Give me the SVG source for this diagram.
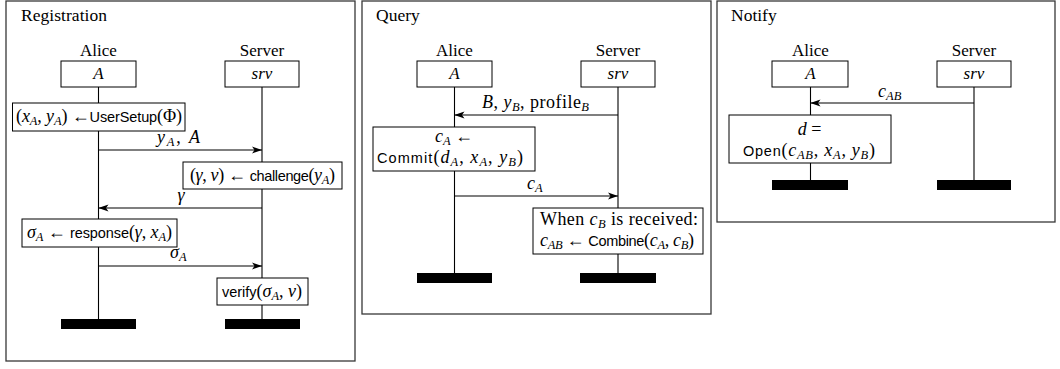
<svg xmlns="http://www.w3.org/2000/svg" width="1060" height="369" viewBox="0 0 1060 369">
<style>
.frame{fill:none;stroke:#383838;stroke-width:1.3}
.box{fill:#fff;stroke:#000;stroke-width:1}
.life{stroke:#000;stroke-width:1.1;fill:none}
.bar{fill:#000}
.msg{stroke:#000;stroke-width:1.1;fill:none;marker-end:url(#ah)}
.rm{font-family:"Liberation Serif","DejaVu Serif",serif;font-size:17px;fill:#000}
.bx{font-size:18px}
.ttl{font-family:"Liberation Serif","DejaVu Serif",serif;font-size:17.5px;fill:#000}
.mi{font-style:italic}
.sb{font-size:12.5px;font-style:italic}
.sf{font-family:"Liberation Sans","DejaVu Sans",sans-serif;font-size:14.5px}
</style>
<defs>
<marker id="ah" viewBox="0 0 10 8" refX="10" refY="4" markerWidth="10" markerHeight="8" markerUnits="userSpaceOnUse" orient="auto">
<path d="M0,0.5 L10,4 L0,7.5 L2.5,4 Z" fill="#000"/>
</marker>
</defs>
<rect width="1060" height="369" fill="#fff"/>

<!-- Frames -->
<g id="frame-registration">
<rect class="frame" x="6" y="1" width="349" height="360"/>
<text class="ttl" x="21" y="21" textLength="86">Registration</text>
</g>
<g id="frame-query">
<rect class="frame" x="362" y="1" width="349" height="313"/>
<text class="ttl" x="376" y="21">Query</text>
</g>
<g id="frame-notify">
<rect class="frame" x="717" y="1" width="338" height="221"/>
<text class="ttl" x="731" y="21">Notify</text>
</g>

<!-- Lifelines -->
<g id="lifelines">
<line class="life" x1="98.5" y1="87" x2="98.5" y2="319"/>
<line class="life" x1="262" y1="87" x2="262" y2="319"/>
<line class="life" x1="454.5" y1="87" x2="454.5" y2="273"/>
<line class="life" x1="618" y1="87" x2="618" y2="273"/>
<line class="life" x1="810.5" y1="87" x2="810.5" y2="180"/>
<line class="life" x1="974" y1="87" x2="974" y2="180"/>
</g>

<!-- Registration participants -->
<g id="reg-alice">
<text class="rm" x="98.5" y="56" text-anchor="middle">Alice</text>
<rect class="box" x="61" y="61" width="75" height="26"/>
<text class="rm mi" x="98.5" y="78.5" text-anchor="middle" font-size="18">A</text>
<rect class="bar" x="61" y="319" width="75" height="10"/>
</g>
<g id="reg-server">
<text class="rm" x="262" y="56" text-anchor="middle">Server</text>
<rect class="box" x="225" y="61" width="74" height="26"/>
<text class="rm mi" x="262" y="78.5" text-anchor="middle" font-size="18">srv</text>
<rect class="bar" x="225" y="319" width="75" height="10"/>
</g>
<g id="reg-usersetup">
<rect class="box" x="12.5" y="103" width="172.5" height="28"/>
<text class="rm bx" x="16" y="122" textLength="166">(<tspan class="mi">x</tspan><tspan class="sb" dy="3">A</tspan><tspan dy="-3">, </tspan><tspan class="mi">y</tspan><tspan class="sb" dy="3">A</tspan><tspan dy="-3">) ←</tspan><tspan class="sf">UserSetup</tspan>(Φ)</text>
</g>
<g id="reg-challenge">
<rect class="box" x="183" y="162" width="159" height="27"/>
<text class="rm bx" x="190" y="181" textLength="145">(<tspan class="mi">γ</tspan>, <tspan class="mi">v</tspan>) ← <tspan class="sf">challenge</tspan>(<tspan class="mi">y</tspan><tspan class="sb" dy="3">A</tspan><tspan dy="-3">)</tspan></text>
</g>
<g id="reg-response">
<rect class="box" x="22" y="219" width="155" height="28"/>
<text class="rm bx" x="27" y="238" textLength="145"><tspan class="mi">σ</tspan><tspan class="sb" dy="3">A</tspan><tspan dy="-3"> ← </tspan><tspan class="sf">response</tspan>(<tspan class="mi">γ</tspan>, <tspan class="mi">x</tspan><tspan class="sb" dy="3">A</tspan><tspan dy="-3">)</tspan></text>
</g>
<g id="reg-verify">
<rect class="box" x="217" y="278" width="91" height="27"/>
<text class="rm bx" x="222" y="297" textLength="80"><tspan class="sf">verify</tspan>(<tspan class="mi">σ</tspan><tspan class="sb" dy="3">A</tspan><tspan dy="-3">, </tspan><tspan class="mi">v</tspan>)</text>
</g>

<!-- Query participants -->
<g id="q-alice">
<text class="rm" x="454.5" y="56" text-anchor="middle">Alice</text>
<rect class="box" x="417" y="61" width="75" height="26"/>
<text class="rm mi" x="454.5" y="78.5" text-anchor="middle" font-size="18">A</text>
<rect class="bar" x="417" y="273" width="75" height="10"/>
</g>
<g id="q-server">
<text class="rm" x="618" y="56" text-anchor="middle">Server</text>
<rect class="box" x="581" y="61" width="74" height="26"/>
<text class="rm mi" x="618" y="78.5" text-anchor="middle" font-size="18">srv</text>
<rect class="bar" x="580" y="273" width="76" height="10"/>
</g>
<g id="q-commit">
<rect class="box" x="373" y="127" width="162" height="44"/>
<text class="rm bx" x="454" y="142" text-anchor="middle"><tspan class="mi">c</tspan><tspan class="sb" dy="3">A</tspan><tspan dy="-3"> ←</tspan></text>
<text class="rm bx" x="377" y="163" textLength="146"><tspan class="sf">Commit</tspan>(<tspan class="mi">d</tspan><tspan class="sb" dy="3">A</tspan><tspan dy="-3">, </tspan><tspan class="mi">x</tspan><tspan class="sb" dy="3">A</tspan><tspan dy="-3">, </tspan><tspan class="mi">y</tspan><tspan class="sb" dy="3">B</tspan><tspan dy="-3">)</tspan></text>
</g>
<g id="q-combine">
<rect class="box" x="533" y="208" width="170" height="46"/>
<text class="rm bx" x="540" y="225" textLength="158">When <tspan class="mi">c</tspan><tspan class="sb" dy="3">B</tspan><tspan dy="-3"> is received:</tspan></text>
<text class="rm bx" x="540" y="246" textLength="154"><tspan class="mi">c</tspan><tspan class="sb" dy="3">AB</tspan><tspan dy="-3"> ← </tspan><tspan class="sf">Combine</tspan>(<tspan class="mi">c</tspan><tspan class="sb" dy="3">A</tspan><tspan dy="-3">, </tspan><tspan class="mi">c</tspan><tspan class="sb" dy="3">B</tspan><tspan dy="-3">)</tspan></text>
</g>

<!-- Notify participants -->
<g id="n-alice">
<text class="rm" x="810.5" y="56" text-anchor="middle">Alice</text>
<rect class="box" x="772" y="61" width="76" height="26"/>
<text class="rm mi" x="810.5" y="78.5" text-anchor="middle" font-size="18">A</text>
<rect class="bar" x="772" y="180" width="76" height="10"/>
</g>
<g id="n-server">
<text class="rm" x="974" y="56" text-anchor="middle">Server</text>
<rect class="box" x="937" y="61" width="74" height="26"/>
<text class="rm mi" x="974" y="78.5" text-anchor="middle" font-size="18">srv</text>
<rect class="bar" x="937" y="180" width="74" height="10"/>
</g>
<g id="n-open">
<rect class="box" x="729" y="115" width="162" height="48"/>
<text class="rm bx" x="809.5" y="135" text-anchor="middle"><tspan class="mi">d</tspan> =</text>
<text class="rm bx" x="743" y="156" textLength="132"><tspan class="sf">Open</tspan>(<tspan class="mi">c</tspan><tspan class="sb" dy="3">AB</tspan><tspan dy="-3">, </tspan><tspan class="mi">x</tspan><tspan class="sb" dy="3">A</tspan><tspan dy="-3">, </tspan><tspan class="mi">y</tspan><tspan class="sb" dy="3">B</tspan><tspan dy="-3">)</tspan></text>
</g>

<!-- Connectors -->
<g id="connectors">
<line class="msg" x1="98.5" y1="150" x2="262" y2="150"/>
<text class="rm bx" x="157" y="143" textLength="43"><tspan class="mi">y</tspan><tspan class="sb" dy="3">A</tspan><tspan dy="-3">, </tspan><tspan class="mi">A</tspan></text>
<line class="msg" x1="262" y1="208" x2="98.5" y2="208"/>
<text class="rm bx mi" x="181" y="201" text-anchor="middle">γ</text>
<line class="msg" x1="98.5" y1="266" x2="262" y2="266"/>
<text class="rm bx" x="170" y="258"><tspan class="mi">σ</tspan><tspan class="sb" dy="3">A</tspan></text>
<line class="msg" x1="618" y1="115" x2="454.5" y2="115"/>
<text class="rm bx" x="482" y="108" textLength="107"><tspan class="mi">B</tspan>, <tspan class="mi">y</tspan><tspan class="sb" dy="3">B</tspan><tspan dy="-3">, profile</tspan><tspan class="sb" dy="3">B</tspan></text>
<line class="msg" x1="454.5" y1="196" x2="618" y2="196"/>
<text class="rm bx" x="527" y="189"><tspan class="mi">c</tspan><tspan class="sb" dy="3">A</tspan></text>
<line class="msg" x1="974" y1="103" x2="810.5" y2="103"/>
<text class="rm bx" x="878" y="97"><tspan class="mi">c</tspan><tspan class="sb" dy="3">AB</tspan></text>
</g>
</svg>
